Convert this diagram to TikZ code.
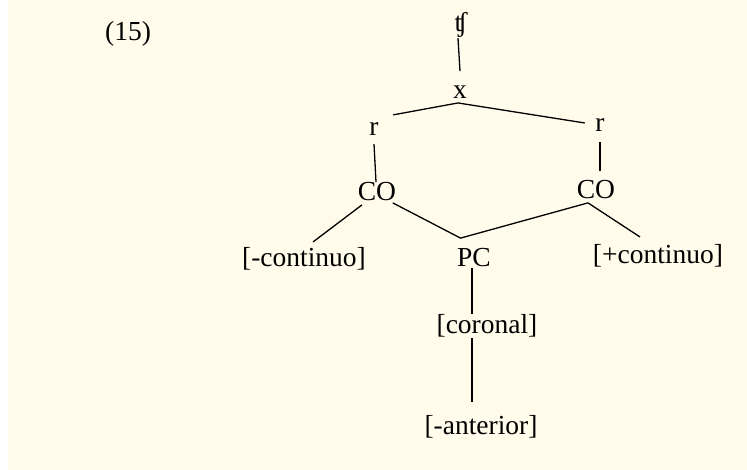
\documentclass[tikz,border=0pt]{standalone}
\usepackage{fontspec}
\setmainfont{Liberation Serif}
\usetikzlibrary{positioning}

\definecolor{paper}{HTML}{FFFCEC}

\begin{document}
\begin{tikzpicture}[x=1pt, y=1pt, line width=1.3pt,
    every node/.style={inner sep=0pt, font=\fontsize{27.5}{33}\selectfont}]
    \fill[white] (0,0) rectangle (747,470);
    \fill[paper] (8,0) rectangle (747,470);
    \useasboundingbox (0,0) rectangle (747,470);

    \node (ex) at (128,436) {(15)};
    \node (tsh) at (461,445) {ʧ};
    \node (xx) at (460,378) {x};
    \node (rl) at (374,341) {r};
    \node (rr) at (600,345) {r};
    \node (col) at (377,278) {CO};
    \node (cor) at (596,280) {CO};
    \node (mcont) at (304,211) {[-continuo]};
    \node (pc) at (474,212) {PC};
    \node (pcont) at (658,214) {[+continuo]};
    \node (coronal) at (487,144) {[coronal]};
    \node (anterior) at (481,43) {[-anterior]};

    \draw ([xshift=-3pt]tsh.south) -- ([yshift=14pt]xx.north);
    \draw ([xshift=14pt,yshift=7pt]rl.north east) -- ([xshift=-2pt,yshift=-4pt]xx.south)
          -- ([xshift=-10pt,yshift=2pt]rr.west);
    \draw ([yshift=-8pt]rl.south) -- ([xshift=-1pt]col.north);
    \draw ([yshift=-10pt]rr.south) -- ([xshift=4pt,yshift=9pt]cor.north);
    \draw ([xshift=-15pt,yshift=-3pt]col.south) -- ([xshift=9pt,yshift=5pt]mcont.north);
    \draw ([xshift=-4pt,yshift=-1pt]col.south east) -- ([xshift=4pt,yshift=10pt]pc.north west)
          -- ([xshift=-8pt,yshift=-3pt]cor.south);
    \draw ([xshift=-8pt,yshift=-3pt]cor.south) -- ([xshift=-18pt,yshift=7pt]pcont.north);
    \draw ([xshift=-2pt]pc.south) -- ([xshift=-15pt]coronal.north);
    \draw ([xshift=-15pt]coronal.south) -- ([xshift=-9pt,yshift=13pt]anterior.north);
\end{tikzpicture}
\end{document}
